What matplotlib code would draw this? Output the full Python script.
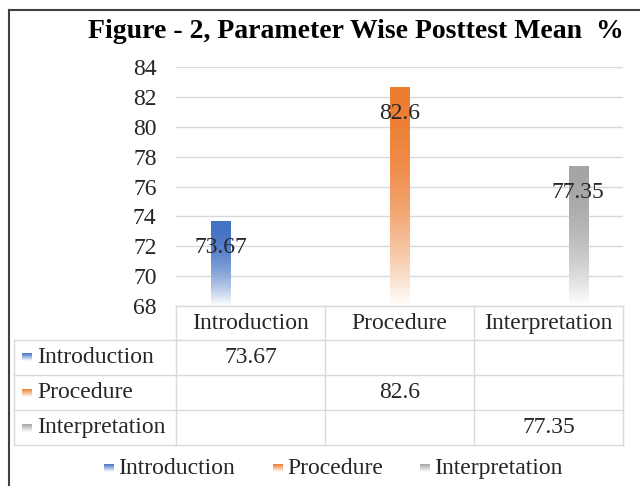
import numpy as np
import matplotlib
matplotlib.use('agg')
import matplotlib.pyplot as plt
from matplotlib.colors import to_rgb

# 数据
categories = ['Introduction', 'Procedure', 'Interpretation']
series_names = ['Introduction', 'Procedure', 'Interpretation']
series_values = [73.67, 82.6, 77.35]
value_labels = ['73.67', '82.6', '77.35']
series_colors = ['#4472C4', '#ED7D31', '#A5A5A5']
y_ticks = [68, 70, 72, 74, 76, 78, 80, 82, 84]

W, H = 640, 486
plt.rcParams['font.family'] = ['Liberation Serif', 'DejaVu Serif']
fsize = 17
txt_color = '#262626'
grid_color = '#d9d9d9'


def gradient(color, n=200, power=2.0):
    '''
    颜色从顶部到底部渐变为白色
    '''
    c = np.array(to_rgb(color))
    t = np.linspace(0, 1, n) ** power
    img = c[None, :] * (1 - t[:, None]) + np.ones(3)[None, :] * t[:, None]
    return img[:, None, :]


def fx(px):
    return px / W


def fy(py):
    return 1 - py / H


fig = plt.figure(figsize=(W / 100, H / 100), dpi=100)

# 绘图区
left, right, top, bottom = 176, 623, 67, 306
ax = fig.add_axes([fx(left), fy(bottom), fx(right - left), (bottom - top) / H])
ax.set_xlim(-0.5, 2.5)
ax.set_ylim(68, 84)
ax.set_yticks(y_ticks)
ax.set_yticklabels([str(v) for v in y_ticks], fontsize=fsize, color=txt_color)
ax.tick_params(axis='y', length=0, pad=14)
ax.set_xticks([])
for s in ax.spines.values():
    s.set_visible(False)
ax.yaxis.grid(True, color=grid_color, linewidth=1)
ax.set_axisbelow(True)

bw = 0.13
for i, (name, val, col) in enumerate(zip(series_names, series_values, series_colors)):
    xc = i + (i - 1) * 0.2
    ax.imshow(gradient(col), extent=(xc - bw / 2, xc + bw / 2, 68, val),
              aspect='auto', zorder=2, interpolation='bilinear')
    ax.annotate(value_labels[i], (xc, val), xytext=(0, -26), textcoords='offset pixels',
                ha='center', va='center', fontsize=fsize, color=txt_color, zorder=3)
ax.set_xlim(-0.5, 2.5)
ax.set_ylim(68, 84)

# 覆盖层: 标题, 数据表, 图例, 边框
ov = fig.add_axes([0, 0, 1, 1], zorder=5)
ov.set_xlim(0, W)
ov.set_ylim(H, 0)
ov.axis('off')
ov.patch.set_alpha(0)

ov.plot([9, W], [10, 10], color='#404040', lw=1.5)
ov.plot([9, 9], [10, H], color='#404040', lw=1.5)

ov.text(356, 31, 'Figure - 2, Parameter Wise Posttest Mean  %', ha='center', va='center',
        fontsize=20, fontweight='bold', color='#000000')

# 数据表
col_edges = [176, 325, 474, 623]
row_edges = [306, 340, 375, 410, 445]
tbl_left = 14
for x in col_edges:
    ov.plot([x, x], [row_edges[0], row_edges[-1]], color=grid_color, lw=1)
ov.plot([tbl_left, tbl_left], [row_edges[1], row_edges[-1]], color=grid_color, lw=1)
ov.plot([col_edges[0], col_edges[-1]], [row_edges[0], row_edges[0]], color=grid_color, lw=1)
for y in row_edges[1:]:
    ov.plot([tbl_left, col_edges[-1]], [y, y], color=grid_color, lw=1)

for j, cat in enumerate(categories):
    xc = (col_edges[j] + col_edges[j + 1]) / 2
    ov.text(xc, (row_edges[0] + row_edges[1]) / 2, cat, ha='center', va='center',
            fontsize=fsize, color=txt_color)

for i, name in enumerate(series_names):
    yc = (row_edges[i + 1] + row_edges[i + 2]) / 2
    ov.imshow(gradient(series_colors[i], power=1.0), extent=(22, 32, yc + 4, yc - 4),
              aspect='auto', zorder=6)
    ov.text(37, yc, name, ha='left', va='center', fontsize=fsize, color=txt_color)
    xc = (col_edges[i] + col_edges[i + 1]) / 2
    ov.text(xc, yc, value_labels[i], ha='center', va='center', fontsize=fsize, color=txt_color)

# 图例
legend_x = [104, 273, 420]
ly = 468
for i, name in enumerate(series_names):
    ov.imshow(gradient(series_colors[i], power=1.0), extent=(legend_x[i], legend_x[i] + 10, ly + 4, ly - 4),
              aspect='auto', zorder=6)
    ov.text(legend_x[i] + 14, ly, name, ha='left', va='center', fontsize=fsize, color=txt_color)
ov.set_xlim(0, W)
ov.set_ylim(H, 0)

fig.savefig('out.png', dpi=100)
plt.close()
